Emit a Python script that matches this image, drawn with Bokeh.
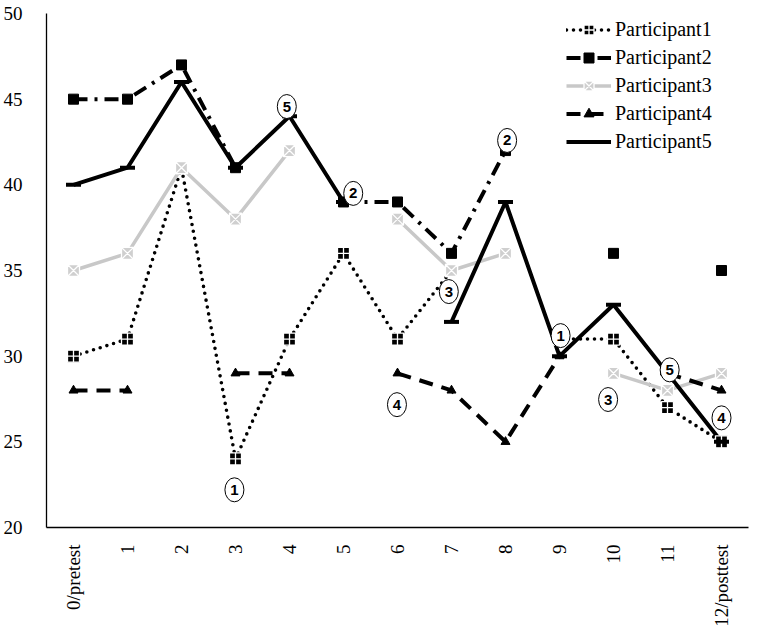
import math
from bokeh.plotting import figure
from bokeh.models import Legend, LegendItem, FixedTicker, ColumnDataSource
from bokeh.core.properties import value
from bokeh.embed import file_html
from bokeh.resources import INLINE

nan = float("nan")

sessions = list(range(13))
session_labels = ["0/pretest", "1", "2", "3", "4", "5", "6", "7", "8", "9", "10", "11", "12/posttest"]
y_ticks = [20, 25, 30, 35, 40, 45, 50]

participant1 = [30, 31, 41, 24, 31, 36, 31, 35, nan, 31, 31, 27, 25]
participant2 = [45, 45, 47, 41, nan, 39, 39, 36, 42, nan, 36, nan, 35]
participant3 = [35, 36, 41, 38, 42, nan, 38, 35, 36, nan, 29, 28, 29]
participant4 = [28, 28, nan, 29, 29, nan, 29, 28, 25, 30, nan, 29, 28]
participant5 = [40, 41, 46, 41, 44, 39, nan, 32, 39, 30, 33, 29, 25]

callout_text = ["5", "2", "3", "2", "4", "1", "1", "3", "5", "4"]
callout_x = [3.95, 5.18, 6.95, 8.03, 5.99, 2.98, 9.02, 9.9, 11.04, 12.0]
callout_y = [44.57, 39.5, 33.77, 42.59, 27.17, 22.2, 31.2, 27.47, 29.2, 26.4]

SERIF = "Liberation Serif"

p = figure(width=750, height=629, x_range=(-0.5, 12.5), y_range=(20, 50),
           output_backend="svg", toolbar_location=None,
           min_border_left=43, min_border_right=2, min_border_top=13, min_border_bottom=102)
p.xgrid.visible = False
p.ygrid.visible = False
p.outline_line_color = None
p.background_fill_color = "white"

# axes
p.xaxis.ticker = FixedTicker(ticks=sessions)
p.xaxis.major_label_overrides = {i: lab for i, lab in zip(sessions, session_labels)}
p.xaxis.major_label_orientation = math.pi / 2
p.yaxis.ticker = FixedTicker(ticks=y_ticks)
for ax in (p.xaxis, p.yaxis):
    ax.axis_line_color = "black"
    ax.axis_line_width = 1.3
    ax.major_tick_line_color = None
    ax.minor_tick_line_color = None
    ax.major_label_text_font = SERIF
    ax.major_label_text_font_size = "19px"
    ax.major_label_text_color = "black"
p.xaxis.major_label_standoff = 11
p.yaxis.major_label_standoff = 18

# lines
l1 = p.line(sessions, participant1, line_color="black", line_width=3.6, line_dash="0 7", line_cap="round")
l2 = p.line(sessions, participant2, line_color="black", line_width=4, line_dash="14 7 3 7")
l3 = p.line(sessions, participant3, line_color="#c8c8c8", line_width=3.5)
l4 = p.line(sessions, participant4, line_color="black", line_width=4, line_dash="14 9")
l5 = p.line(sessions, participant5, line_color="black", line_width=4)

# markers
m1 = p.scatter(sessions, participant1, marker="square_cross", size=12, fill_color="black", line_color="white", line_width=1.3)
m2 = p.scatter(sessions, participant2, marker="square", size=10, fill_color="black", line_color="black")
m3 = p.scatter(sessions, participant3, marker="square_x", size=12, fill_color="#cfcfcf", line_color="white", line_width=1.3)
m4 = p.scatter(sessions, participant4, marker="triangle", size=9, fill_color="black", line_color="black")
m5 = p.scatter(sessions, participant5, marker="dash", size=15, line_color="black", line_width=4)

# circled callouts
src = ColumnDataSource(dict(x=callout_x, y=callout_y, t=callout_text))
p.ellipse(x="x", y="y", width=19, height=24, width_units="screen", height_units="screen",
          fill_color="white", line_color="black", line_width=1, source=src)
p.text(x="x", y="y", text="t", source=src, text_align="center", text_baseline="middle",
       text_font=value("Liberation Sans"), text_font_style="bold", text_font_size="15px", text_color="black")

legend = Legend(items=[
    LegendItem(label="Participant1", renderers=[l1, m1]),
    LegendItem(label="Participant2", renderers=[l2, m2]),
    LegendItem(label="Participant3", renderers=[l3, m3]),
    LegendItem(label="Participant4", renderers=[l4, m4]),
    LegendItem(label="Participant5", renderers=[l5, m5]),
], location=(520, 373))
legend.glyph_width = 45
legend.glyph_height = 25
legend.label_height = 25
legend.label_standoff = 4
legend.spacing = 3
legend.padding = 5
legend.border_line_color = None
legend.background_fill_alpha = 0
legend.label_text_font = SERIF
legend.label_text_font_size = "20px"
legend.label_text_color = "black"
p.add_layout(legend)

open("out.html", "w").write(file_html(p, INLINE))
